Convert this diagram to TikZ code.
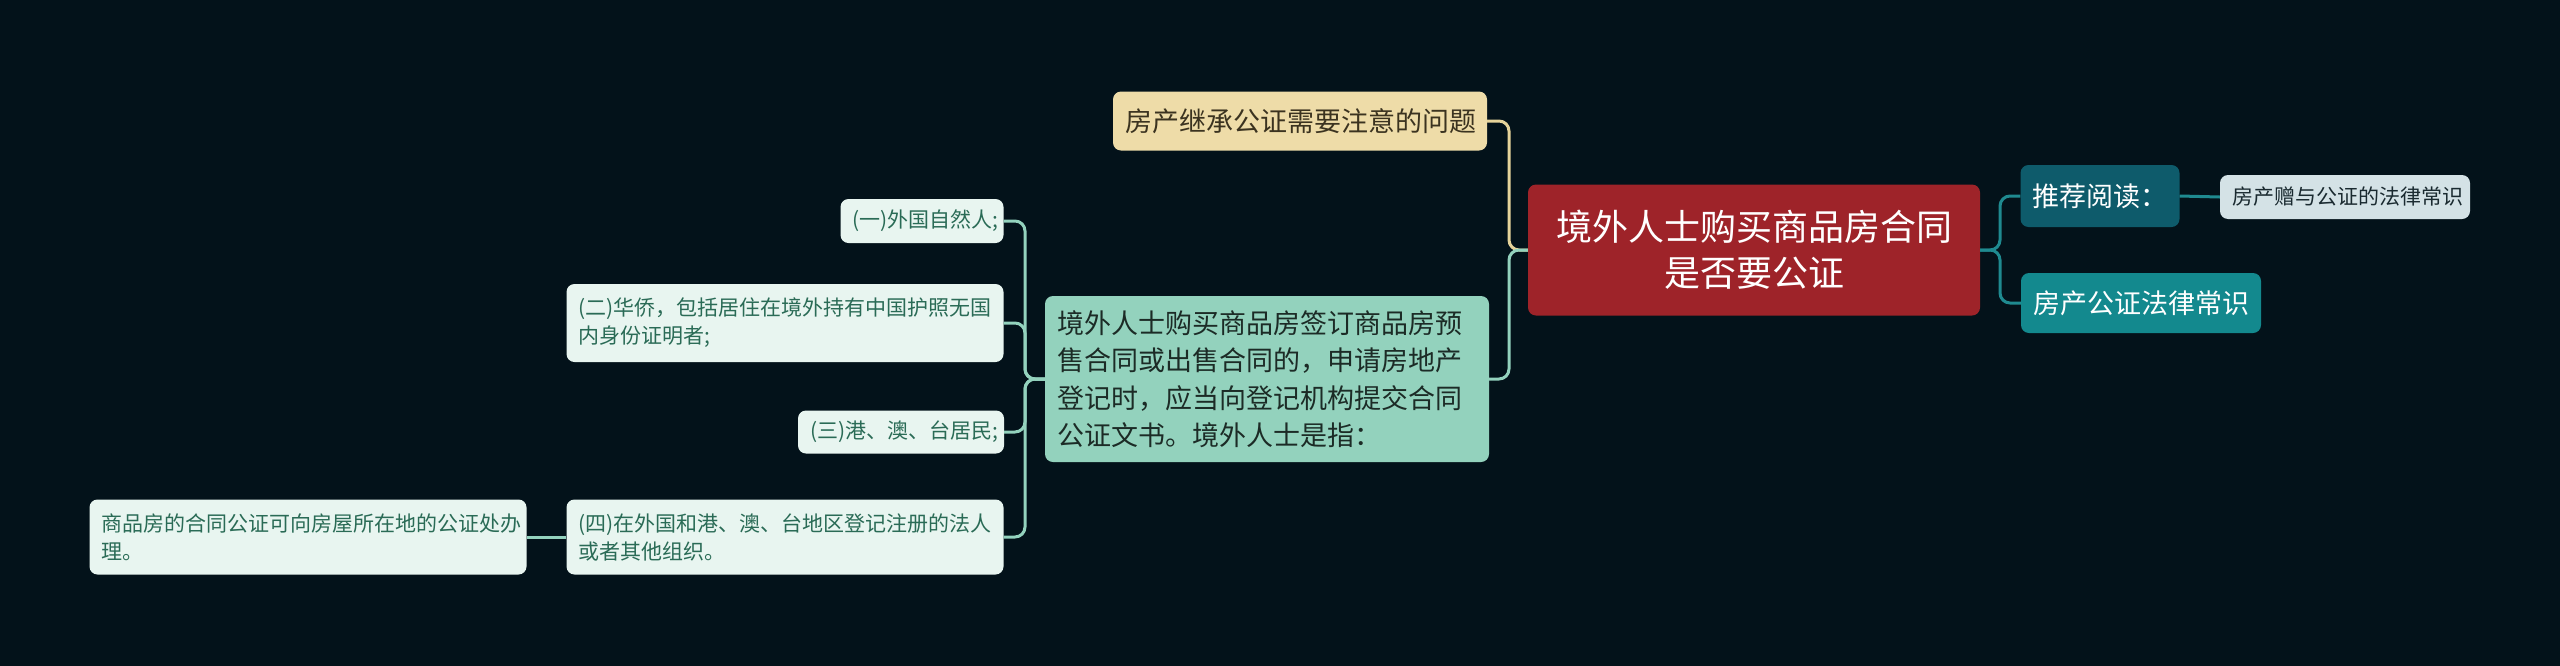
\documentclass[tikz,border=0pt]{standalone}
\usepackage{fontspec}
\newfontfamily\cjk{Noto Sans CJK SC}
\definecolor{bg}{HTML}{03121A}
\definecolor{yfill}{HTML}{EEDCA8}
\definecolor{ytext}{HTML}{3B3320}
\definecolor{rfill}{HTML}{9E2329}
\definecolor{tfill}{HTML}{0E5B6B}
\definecolor{zfill}{HTML}{D4E2E6}
\definecolor{ztext}{HTML}{1A2A30}
\definecolor{gzfill}{HTML}{13898E}
\definecolor{gfill}{HTML}{93D2BD}
\definecolor{gtext}{HTML}{1C2B26}
\definecolor{sfill}{HTML}{E8F5F0}
\definecolor{stext}{HTML}{2A6B56}
\definecolor{ylink}{HTML}{E5D39A}
\definecolor{tlink}{HTML}{1F8A90}
\definecolor{glink}{HTML}{93D2BD}
\tikzset{
  box/.style n args={2}{rounded corners=8pt, inner xsep=12pt, inner ysep=0pt,
     text width=#1pt-24pt, minimum height=#2pt, anchor=center},
  small/.style={fill=sfill, text=stext, align=left, font=\cjk\fontsize{21}{28}\selectfont},
  link/.style={line width=3pt, rounded corners=10pt}
}
\begin{document}
\begin{tikzpicture}[x=1pt,y=-1pt]
\useasboundingbox (0,0) rectangle (2560,665);
\fill[bg] (-10,-10) rectangle (2570,675);
% nodes
\node[box={374}{59}, fill=yfill, text=ytext, align=center, font=\cjk\fontsize{27}{34}\selectfont] (yel) at (1300,121) {房产继承公证需要注意的问题};
\node[box={452}{131}, fill=rfill, text=white, align=center, font=\cjk\fontsize{36}{46}\selectfont] (root) at (1754,250) {境外人士购买商品房合同\\是否要公证};
\node[box={159}{62}, fill=tfill, text=white, align=center, font=\cjk\fontsize{27}{34}\selectfont] (tj) at (2100,196) {推荐阅读：};
\node[box={250}{44}, fill=zfill, text=ztext, align=center, font=\cjk\fontsize{21}{28}\selectfont] (zy) at (2345,197) {房产赠与公证的法律常识};
\node[box={240}{60}, fill=gzfill, text=white, align=center, font=\cjk\fontsize{27}{34}\selectfont] (gz) at (2141,303) {房产公证法律常识};
\node[box={444}{166}, fill=gfill, text=gtext, align=left, font=\cjk\fontsize{27}{37.5}\selectfont] (main) at (1267,379) {境外人士购买商品房签订商品房预\\售合同或出售合同的，申请房地产\\登记时，应当向登记机构提交合同\\公证文书。境外人士是指：};
\node[box={163}{44}, small, align=center] (n1) at (922,221) {(一)外国自然人;};
\node[box={437}{78}, small] (n2) at (785,323) {(二)华侨，包括居住在境外持有中国护照无国\\内身份证明者;};
\node[box={206}{43}, small, align=center] (n3) at (901,432) {(三)港、澳、台居民;};
\node[box={437}{75}, small] (n4) at (785,537) {(四)在外国和港、澳、台地区登记注册的法人\\或者其他组织。};
\node[box={437}{75}, small] (n5) at (308,537) {商品房的合同公证可向房屋所在地的公证处办\\理。};
% spine points
\coordinate (sp) at (1509,250);
\coordinate (rs) at (2000,250);
\coordinate (ls) at (1025,379);
% connectors
\draw[link, ylink] (yel.east) -| (sp) -- (root.west);
\draw[link, glink] (main.east) -| (sp) -- (root.west);
\draw[link, tlink] (root.east) -- (rs) |- (tj.west);
\draw[link, tlink] (root.east) -- (rs) |- (gz.west);
\draw[link, tlink] (tj.east) -- (zy.west);
\foreach \n in {n1,n2,n3,n4} {
  \draw[link, glink] (main.west) -- (ls) |- (\n.east);
}
\draw[link, glink] (n4.west) -- (n5.east);
\end{tikzpicture}
\end{document}
